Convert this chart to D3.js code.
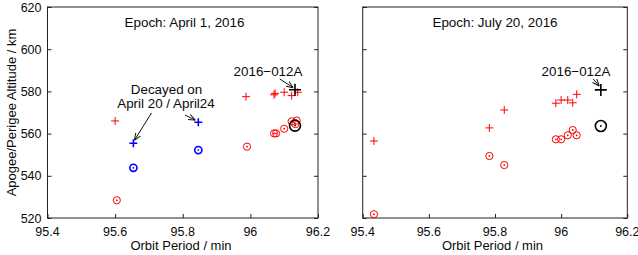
<!DOCTYPE html>
<html>
<head>
<meta charset="utf-8">
<script src="https://cdn.jsdelivr.net/npm/d3@7"></script>
<style>
  body { margin: 0; background: #fff; }
  text { font-family: "Liberation Sans", Arial, sans-serif; fill: #0a0a0a; }
</style>
</head>
<body>
<svg width="638" height="255"></svg>
<script>
// tick values
var xTicks = [95.4, 95.6, 95.8, 96, 96.2];
var yTicks = [520, 540, 560, 580, 600, 620];

// epoch April 1, 2016  [period, altitude]
var aprRedApogee = [[95.60, 566], [95.987, 577.5], [96.073, 579.1], [96.07, 578.4],
                    [96.10, 579.6], [96.122, 578], [96.14, 579.6]];
var aprRedPerigee = [[95.605, 528.4], [95.99, 553.8], [96.07, 560.1], [96.076, 560.1],
                     [96.10, 562.3], [96.122, 565.8], [96.137, 566.2], [96.133, 564.5]];
var aprBlueApogee = [[95.654, 555.4], [95.846, 565.4]];
var aprBluePerigee = [[95.654, 543.8], [95.846, 552.2]];
var aprMainApogee = [[96.132, 580.8]];
var aprMainPerigee = [[96.132, 563.8]];

// epoch July 20, 2016
var julRedApogee = [[95.434, 556.5], [95.783, 562.7], [95.828, 571.2], [95.984, 574.4],
                    [96.0, 575.9], [96.02, 575.9], [96.035, 574.6], [96.047, 578.6]];
var julRedPerigee = [[95.434, 521.8], [95.783, 549.4], [95.828, 545.1], [95.984, 557.3],
                     [96.0, 557.3], [96.02, 559.2], [96.035, 561.7], [96.047, 559.2]];
var julMainApogee = [[96.12, 580.7]];
var julMainPerigee = [[96.12, 563.6]];

var svg = d3.select('svg');

var defs = svg.append('defs');
defs.append('marker')
    .attr('id', 'arrow')
    .attr('viewBox', '0 0 10 10')
    .attr('refX', 10).attr('refY', 5)
    .attr('markerWidth', 7).attr('markerHeight', 7)
    .attr('markerUnits', 'userSpaceOnUse')
    .attr('orient', 'auto')
    .append('path')
    .attr('d', 'M0,1L10,5L0,9')
    .attr('fill', 'none')
    .attr('stroke', '#111')
    .attr('stroke-width', 1.4);

var scaleY = d3.scaleLinear().domain([520, 620]).range([218, 7]);

function drawPanel(left, right, showYLabels, series, title, titleX, labelX) {
    var scaleX = d3.scaleLinear().domain([95.4, 96.2]).range([left, right]);
    var g = svg.append('g');

    // frame
    g.append('rect')
        .attr('x', left).attr('y', 7)
        .attr('width', right - left).attr('height', 211)
        .attr('fill', 'none').attr('stroke', '#222').attr('stroke-width', 1);

    // inward ticks
    g.append('g').attr('transform', 'translate(0,218)')
        .call(d3.axisTop(scaleX).tickValues(xTicks).tickSize(4).tickFormat(''))
        .call(function(a){ a.select('.domain').remove(); });
    g.append('g').attr('transform', 'translate(' + left + ',0)')
        .call(d3.axisRight(scaleY).tickValues(yTicks).tickSize(4).tickFormat(''))
        .call(function(a){ a.select('.domain').remove(); });
    g.append('g').attr('transform', 'translate(' + right + ',0)')
        .call(d3.axisLeft(scaleY).tickValues(yTicks).tickSize(4).tickFormat(''))
        .call(function(a){ a.select('.domain').remove(); });
    g.selectAll('.tick line').attr('stroke', '#222');

    // tick labels
    g.selectAll('.xlab').data(xTicks).enter().append('text')
        .attr('x', function(d){ return scaleX(d); })
        .attr('y', 236)
        .attr('text-anchor', 'middle')
        .attr('font-size', 12.5)
        .text(function(d){ return d3.format('')(d); });
    if (showYLabels) {
        g.selectAll('.ylab').data(yTicks).enter().append('text')
            .attr('x', left - 6)
            .attr('y', function(d){ return scaleY(d) + 4.5; })
            .attr('text-anchor', 'end')
            .attr('font-size', 12.5)
            .text(function(d){ return d; });
    }

    g.append('text')
        .attr('x', labelX).attr('y', 250)
        .attr('text-anchor', 'middle').attr('font-size', 13)
        .text('Orbit Period / min');

    g.append('text')
        .attr('x', titleX).attr('y', 27)
        .attr('text-anchor', 'middle').attr('font-size', 13.4)
        .text(title);

    series.forEach(function(s) {
        var pts = g.selectAll(null).data(s.data).enter().append('g')
            .attr('transform', function(d){
                return 'translate(' + scaleX(d[0]) + ',' + scaleY(d[1]) + ')';
            });
        if (s.type == 'cross') {
            pts.append('path')
                .attr('d', 'M' + (-s.size) + ',0H' + s.size + 'M0,' + (-s.size) + 'V' + s.size)
                .attr('stroke', s.color).attr('stroke-width', s.width).attr('fill', 'none');
        } else {
            pts.append('circle').attr('r', s.size)
                .attr('stroke', s.color).attr('stroke-width', s.width).attr('fill', 'none');
            pts.append('circle').attr('r', 0.9).attr('fill', s.color);
        }
    });

    return scaleX;
}

var xL = drawPanel(47.5, 318, true, [
    { data: aprRedApogee, type: 'cross', color: '#ff0000', size: 4, width: 1 },
    { data: aprRedPerigee, type: 'circle', color: '#ff0000', size: 3.6, width: 1 },
    { data: aprBlueApogee, type: 'cross', color: '#0000ff', size: 4, width: 1.6 },
    { data: aprBluePerigee, type: 'circle', color: '#0000ff', size: 3.6, width: 1.6 },
    { data: aprMainApogee, type: 'cross', color: '#000', size: 6, width: 1.6 },
    { data: aprMainPerigee, type: 'circle', color: '#000', size: 5.5, width: 1.6 }
], 'Epoch: April 1, 2016', 184.5, 181);

var xR = drawPanel(362.7, 627.3, false, [
    { data: julRedApogee, type: 'cross', color: '#ff0000', size: 4, width: 1 },
    { data: julRedPerigee, type: 'circle', color: '#ff0000', size: 3.6, width: 1 },
    { data: julMainApogee, type: 'cross', color: '#000', size: 6, width: 1.6 },
    { data: julMainPerigee, type: 'circle', color: '#000', size: 5.5, width: 1.6 }
], 'Epoch: July 20, 2016', 495, 492.5);

// y axis title
svg.append('text')
    .attr('transform', 'translate(16,112.5) rotate(-90)')
    .attr('text-anchor', 'middle').attr('font-size', 13)
    .text('Apogee/Perigee Altitude / km');

// annotations
function note(x, y, str) {
    svg.append('text').attr('x', x).attr('y', y)
        .attr('text-anchor', 'middle').attr('font-size', 13.4).text(str);
}
function arrow(x1, y1, x2, y2) {
    svg.append('line')
        .attr('x1', x1).attr('y1', y1).attr('x2', x2).attr('y2', y2)
        .attr('stroke', '#111').attr('stroke-width', 1)
        .attr('marker-end', 'url(#arrow)');
}

note(268, 76, '2016\u2212012A');
arrow(xL(96.087), 79, xL(96.127), scaleY(580.8) - 2);

note(576, 76, '2016\u2212012A');
arrow(xR(96.097), 79, xR(96.115), scaleY(580.7) - 4);

note(166.5, 94, 'Decayed on');
note(166, 108, 'April 20 / April24');
arrow(151.5, 113, xL(95.654) + 1, scaleY(555.4) - 3);
arrow(185, 115, xL(95.846) - 3, scaleY(565.4) - 2);
</script>
</body>
</html>
